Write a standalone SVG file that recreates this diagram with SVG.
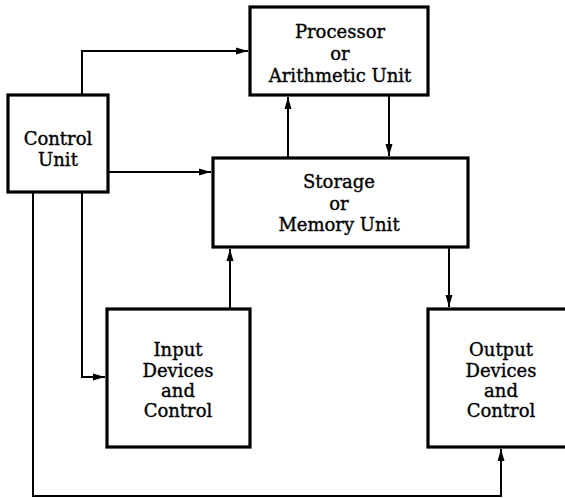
<svg xmlns="http://www.w3.org/2000/svg" width="565" height="498" viewBox="0 0 565 498">
<style>
.box{fill:#fff;stroke:#000;stroke-width:3.2}
.ln{fill:none;stroke:#000;stroke-width:2}
text{font-family:"DejaVu Serif","Liberation Serif",serif;font-size:18px;fill:#000;stroke:#000;stroke-width:0.35;text-anchor:middle}
</style>
<defs>
<marker id="ah" viewBox="0 0 12 8" refX="12" refY="4" markerWidth="12" markerHeight="8" markerUnits="userSpaceOnUse" orient="auto">
<path d="M0,0.5 L12,4 L0,7.5 Z" fill="#000"/>
</marker>
</defs>
<rect width="565" height="498" fill="#fff"/>
<g id="connectors">
<path class="ln" d="M82,95 V51 H248" marker-end="url(#ah)"/>
<path class="ln" d="M108,172 H211" marker-end="url(#ah)"/>
<path class="ln" d="M33,192 V496 H501 V449" marker-end="url(#ah)"/>
<path class="ln" d="M82,192 V377 H105" marker-end="url(#ah)"/>
<path class="ln" d="M230,309 V249" marker-end="url(#ah)"/>
<path class="ln" d="M288,158 V97" marker-end="url(#ah)"/>
<path class="ln" d="M389,95 V156" marker-end="url(#ah)"/>
<path class="ln" d="M449,247 V307" marker-end="url(#ah)"/>
</g>
<g id="control">
<rect class="box" x="8" y="95" width="100" height="97"/>
<text x="58" y="145">Control</text>
<text x="58" y="166">Unit</text>
</g>
<g id="processor">
<rect class="box" x="250" y="7" width="178" height="88"/>
<text x="340" y="38">Processor</text>
<text x="340" y="60">or</text>
<text x="340" y="82">Arithmetic Unit</text>
</g>
<g id="storage">
<rect class="box" x="213" y="158" width="255" height="89"/>
<text x="339" y="188">Storage</text>
<text x="339" y="210">or</text>
<text x="339" y="231">Memory Unit</text>
</g>
<g id="input">
<rect class="box" x="107" y="309" width="143" height="138"/>
<text x="178" y="356">Input</text>
<text x="178" y="377">Devices</text>
<text x="178" y="397">and</text>
<text x="178" y="417">Control</text>
</g>
<g id="output">
<rect class="box" x="428" y="309" width="148" height="138"/>
<text x="501" y="356">Output</text>
<text x="501" y="377">Devices</text>
<text x="501" y="397">and</text>
<text x="501" y="417">Control</text>
</g>
</svg>
